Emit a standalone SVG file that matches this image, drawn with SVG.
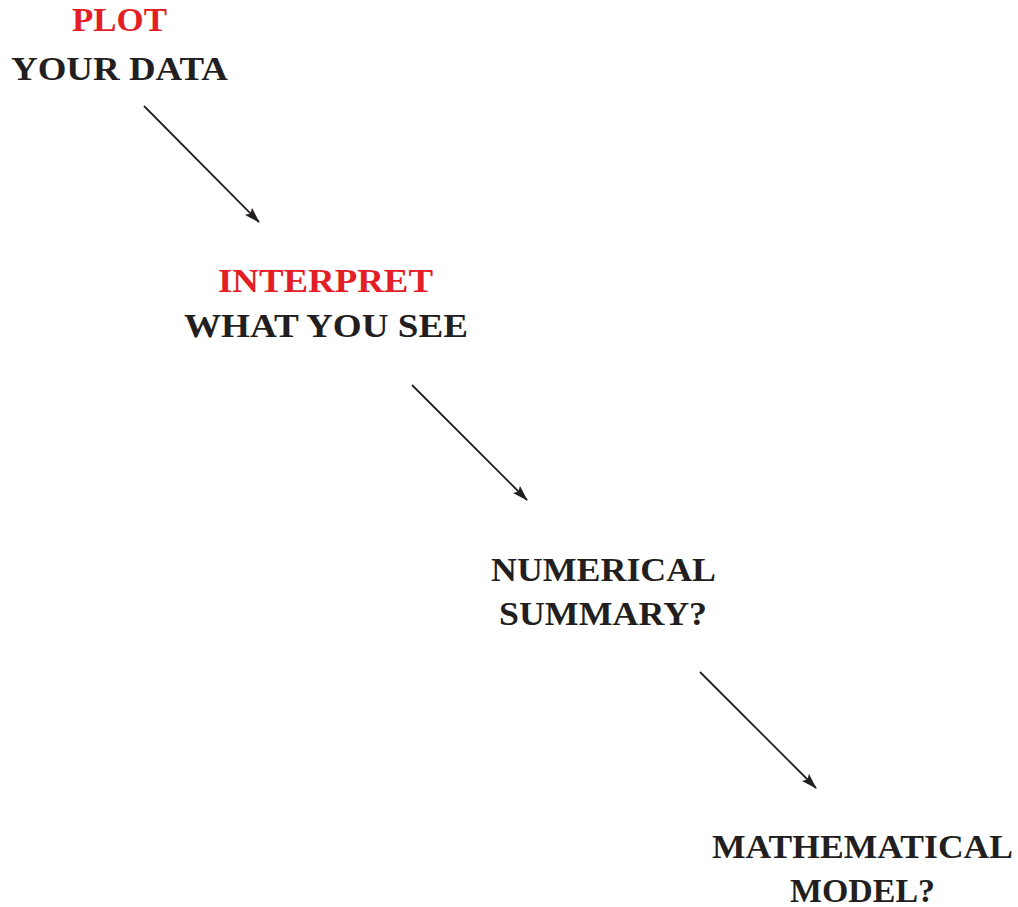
<svg xmlns="http://www.w3.org/2000/svg" width="1018" height="907" viewBox="0 0 1018 907">
<style>
text{font-family:"Liberation Serif","DejaVu Serif",serif;font-weight:bold;font-size:34px;text-anchor:middle;fill:#231f20}
.red{fill:#e31e26}
.conn line{stroke:#231f20;stroke-width:1.8}
</style>
<defs>
<marker id="ah" viewBox="0 0 16 10" refX="15" refY="5" markerWidth="16" markerHeight="10" markerUnits="userSpaceOnUse" orient="auto">
<path d="M0,0 L16,5 L0,10 L3,5 Z" fill="#231f20"/>
</marker>
</defs>
<g id="plot">
<text class="red" x="119.5" y="31" textLength="95" lengthAdjust="spacingAndGlyphs">PLOT</text>
<text x="119.5" y="80" textLength="217" lengthAdjust="spacingAndGlyphs">YOUR DATA</text>
</g>
<g id="interpret">
<text class="red" x="325.5" y="292" textLength="215" lengthAdjust="spacingAndGlyphs">INTERPRET</text>
<text x="326" y="337" textLength="284" lengthAdjust="spacingAndGlyphs">WHAT YOU SEE</text>
</g>
<g id="numerical">
<text x="603.5" y="581" textLength="225" lengthAdjust="spacingAndGlyphs">NUMERICAL</text>
<text x="603" y="625" textLength="208" lengthAdjust="spacingAndGlyphs">SUMMARY?</text>
</g>
<g id="model">
<text x="862.5" y="858" textLength="301" lengthAdjust="spacingAndGlyphs">MATHEMATICAL</text>
<text x="862.5" y="902" textLength="145" lengthAdjust="spacingAndGlyphs">MODEL?</text>
</g>
<g class="conn" id="connectors">
<line x1="144" y1="106" x2="259" y2="222" marker-end="url(#ah)"/>
<line x1="412" y1="385" x2="527" y2="500" marker-end="url(#ah)"/>
<line x1="700" y1="672" x2="816" y2="788" marker-end="url(#ah)"/>
</g>
</svg>
